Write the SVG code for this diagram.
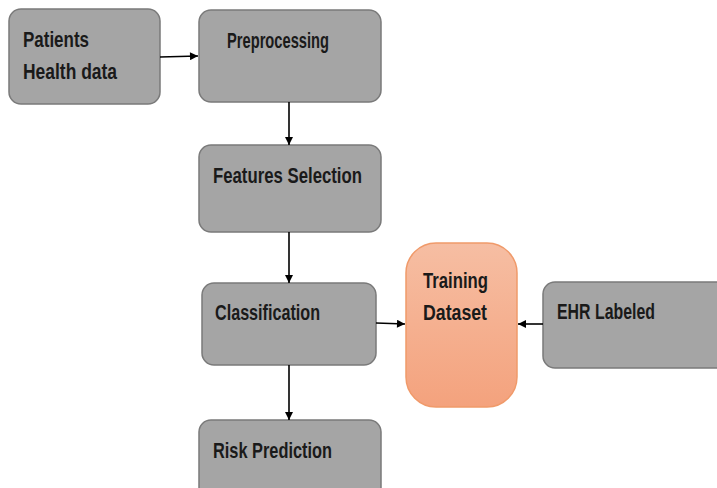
<svg xmlns="http://www.w3.org/2000/svg" width="717" height="488" viewBox="0 0 717 488">
  <style>
    .box { fill: #a5a5a5; stroke: #7a7a7a; stroke-width: 1.5; }
    .lbl { font-family: "Liberation Sans", Arial, sans-serif; font-weight: bold; font-size: 22px; fill: #1a1a1a; }
    .conn { stroke: #000; stroke-width: 1.6; fill: none; marker-end: url(#arrow); }
  </style>
  <defs>
    <marker id="arrow" viewBox="0 0 10 10" refX="10" refY="5" markerWidth="9" markerHeight="8" markerUnits="userSpaceOnUse" orient="auto">
      <path d="M0,0 L10,5 L0,10 Z" fill="#000"/>
    </marker>
    <linearGradient id="trainFill" x1="0" y1="0" x2="0" y2="1">
      <stop offset="0" stop-color="#f6bea3"/>
      <stop offset="1" stop-color="#f4a27d"/>
    </linearGradient>
  </defs>

  <g id="patients">
    <rect class="box" x="9" y="9" width="151" height="95" rx="12"/>
    <text class="lbl" x="23" y="47" textLength="66" lengthAdjust="spacingAndGlyphs">Patients</text>
    <text class="lbl" x="23" y="79" textLength="94" lengthAdjust="spacingAndGlyphs">Health data</text>
  </g>

  <g id="preprocessing">
    <rect class="box" x="199" y="10" width="182" height="92" rx="12"/>
    <text class="lbl" x="227" y="48" textLength="102" lengthAdjust="spacingAndGlyphs">Preprocessing</text>
  </g>

  <g id="features">
    <rect class="box" x="199" y="145" width="182" height="87" rx="12"/>
    <text class="lbl" x="213" y="183" textLength="149" lengthAdjust="spacingAndGlyphs">Features Selection</text>
  </g>

  <g id="classification">
    <rect class="box" x="202" y="283" width="174" height="82" rx="12"/>
    <text class="lbl" x="215" y="320" textLength="105" lengthAdjust="spacingAndGlyphs">Classification</text>
  </g>

  <g id="training">
    <rect x="406" y="243" width="111" height="164" rx="30" fill="url(#trainFill)" stroke="#f09a6a" stroke-width="1.5"/>
    <text class="lbl" x="423" y="288" textLength="65" lengthAdjust="spacingAndGlyphs">Training</text>
    <text class="lbl" x="423" y="320" textLength="64" lengthAdjust="spacingAndGlyphs">Dataset</text>
  </g>

  <g id="ehr">
    <rect class="box" x="543" y="282" width="190" height="86" rx="12"/>
    <text class="lbl" x="557" y="319" textLength="98" lengthAdjust="spacingAndGlyphs">EHR Labeled</text>
  </g>

  <g id="risk">
    <rect class="box" x="199" y="420" width="182" height="80" rx="12"/>
    <text class="lbl" x="213" y="458" textLength="119" lengthAdjust="spacingAndGlyphs">Risk Prediction</text>
  </g>

  <g id="connectors">
    <line class="conn" x1="160" y1="57" x2="198" y2="56"/>
    <line class="conn" x1="289" y1="102" x2="289" y2="145"/>
    <line class="conn" x1="289" y1="232" x2="289" y2="283"/>
    <line class="conn" x1="376" y1="323" x2="405" y2="324"/>
    <line class="conn" x1="543" y1="324" x2="518" y2="324"/>
    <line class="conn" x1="289" y1="365" x2="289" y2="420"/>
  </g>
</svg>
